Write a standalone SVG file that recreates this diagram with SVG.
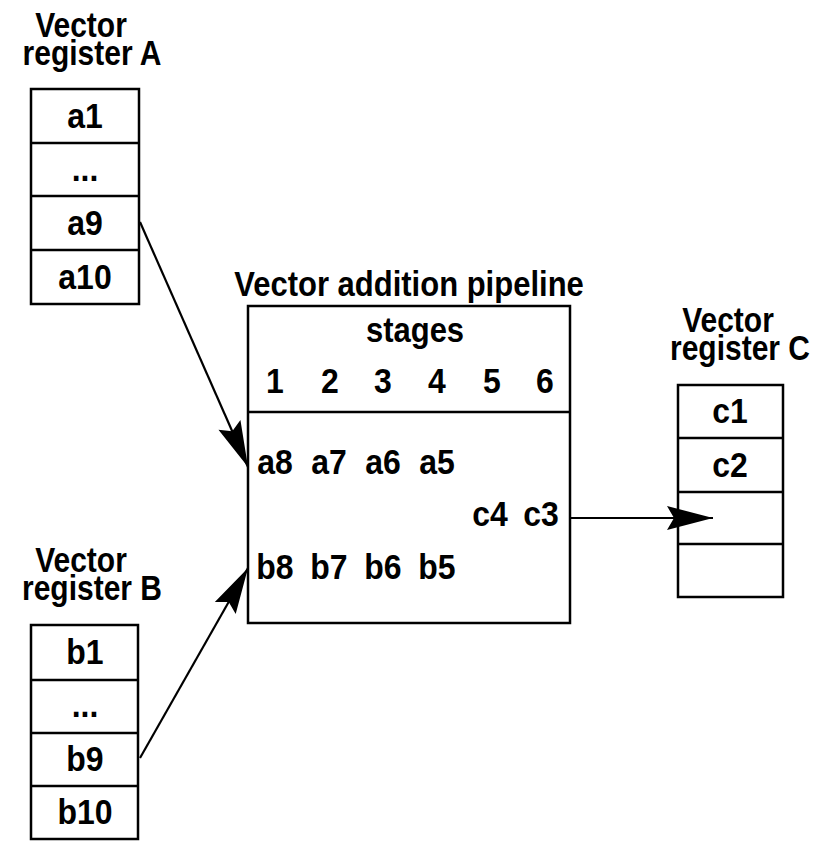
<svg xmlns="http://www.w3.org/2000/svg" width="818" height="842" viewBox="0 0 818 842">
  <style>
    text { font-family: "Liberation Sans", Arial, sans-serif; font-weight: bold; fill: #000; font-size: 30px; text-anchor: middle; }
    .c { font-size: 32px; }
    .box { fill: #fff; stroke: #000; stroke-width: 2.5; }
    .div { stroke: #000; stroke-width: 2.5; }
    .conn { stroke: #000; stroke-width: 2.2; fill: none; marker-end: url(#ah); }
  </style>
  <defs>
    <marker id="ah" markerUnits="userSpaceOnUse" viewBox="-48 -13 50 26" refX="0" refY="0" markerWidth="50" markerHeight="26" orient="auto">
      <path d="M0,0 L-46,-12 L-39,0 L-46,12 Z" fill="#000"/>
    </marker>
  </defs>
  <rect width="818" height="842" fill="#fff"/>

  <g id="regA">
    <text transform="scale(1 1.15)"><tspan x="81" y="32.17">Vector</tspan><tspan x="92" y="56.52">register A</tspan></text>
    <rect class="box" x="31" y="89" width="108" height="215"/>
    <line class="div" x1="31" y1="143" x2="139" y2="143"/>
    <line class="div" x1="31" y1="196" x2="139" y2="196"/>
    <line class="div" x1="31" y1="250" x2="139" y2="250"/>
    <text class="c" transform="translate(85 128) scale(1 1.12)">a1</text>
    <text class="c" transform="translate(85 181) scale(1 1.12)">...</text>
    <text class="c" transform="translate(85 235) scale(1 1.12)">a9</text>
    <text class="c" transform="translate(85 289) scale(1 1.12)">a10</text>
  </g>

  <g id="regB">
    <text transform="scale(1 1.15)"><tspan x="81" y="497.39">Vector</tspan><tspan x="92" y="521.74">register B</tspan></text>
    <rect class="box" x="31" y="625" width="107" height="214"/>
    <line class="div" x1="31" y1="680" x2="138" y2="680"/>
    <line class="div" x1="31" y1="733" x2="138" y2="733"/>
    <line class="div" x1="31" y1="786" x2="138" y2="786"/>
    <text class="c" transform="translate(85 664) scale(1 1.12)">b1</text>
    <text class="c" transform="translate(85 717) scale(1 1.12)">...</text>
    <text class="c" transform="translate(85 771) scale(1 1.12)">b9</text>
    <text class="c" transform="translate(85 824) scale(1 1.12)">b10</text>
  </g>

  <g id="pipeline">
    <text transform="translate(409 296) scale(1 1.12)" style="font-size:31px">Vector addition pipeline</text>
    <rect class="box" x="248" y="306" width="322" height="317"/>
    <line class="div" x1="248" y1="412" x2="570" y2="412"/>
    <text transform="translate(415 342) scale(1 1.12)" style="font-size:31px">stages</text>
    <text class="c" transform="translate(275 393) scale(1 1.12)">1</text>
    <text class="c" transform="translate(330 393) scale(1 1.12)">2</text>
    <text class="c" transform="translate(383 393) scale(1 1.12)">3</text>
    <text class="c" transform="translate(437 393) scale(1 1.12)">4</text>
    <text class="c" transform="translate(492 393) scale(1 1.12)">5</text>
    <text class="c" transform="translate(545 393) scale(1 1.12)">6</text>
    <text class="c" transform="translate(275 474) scale(1 1.12)">a8</text>
    <text class="c" transform="translate(329 474) scale(1 1.12)">a7</text>
    <text class="c" transform="translate(383 474) scale(1 1.12)">a6</text>
    <text class="c" transform="translate(437 474) scale(1 1.12)">a5</text>
    <text class="c" transform="translate(490 526) scale(1 1.12)">c4</text>
    <text class="c" transform="translate(541 526) scale(1 1.12)">c3</text>
    <text class="c" transform="translate(275 579) scale(1 1.12)">b8</text>
    <text class="c" transform="translate(329 579) scale(1 1.12)">b7</text>
    <text class="c" transform="translate(383 579) scale(1 1.12)">b6</text>
    <text class="c" transform="translate(437 579) scale(1 1.12)">b5</text>
  </g>

  <g id="regC">
    <text transform="scale(1 1.15)"><tspan x="728" y="288.70">Vector</tspan><tspan x="740" y="313.04">register C</tspan></text>
    <rect class="box" x="678" y="385" width="105" height="212"/>
    <line class="div" x1="678" y1="438" x2="783" y2="438"/>
    <line class="div" x1="678" y1="492" x2="783" y2="492"/>
    <line class="div" x1="678" y1="544" x2="783" y2="544"/>
    <text class="c" transform="translate(730 423) scale(1 1.12)">c1</text>
    <text class="c" transform="translate(730 477) scale(1 1.12)">c2</text>
  </g>

  <g id="connectors">
    <line class="conn" x1="140" y1="222" x2="248" y2="467"/>
    <line class="conn" x1="140" y1="758" x2="248" y2="568"/>
    <line class="conn" x1="571" y1="518" x2="713" y2="518"/>
  </g>
</svg>
